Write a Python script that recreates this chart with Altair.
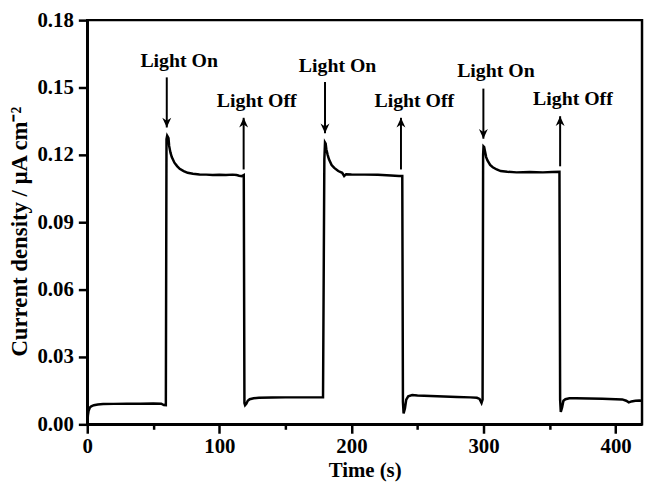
import altair as alt
import pandas as pd

# ---- photocurrent trace ----
time_s = [0, 0.5, 1, 2, 3, 5, 8, 12, 20, 30, 40, 50, 56, 58, 59.5,
          60, 60.5, 61, 61.5, 62, 63, 64, 66, 68, 70, 73, 76, 80, 85, 90, 95, 100, 105, 110, 113, 115, 117, 118.5,
          119, 119.5, 120.5, 121.5, 123, 126, 130, 140, 150, 160, 170, 178.5,
          179.5, 180, 180.5, 181, 182, 183, 185, 187, 190, 193, 194.5, 196, 200, 210, 220, 230, 236, 238.5,
          239, 239.5, 240.5, 241.5, 243, 246, 250, 260, 270, 280, 290, 295, 297, 298.5, 299.3,
          299.7, 300, 300.5, 301, 302, 303, 305, 307, 310, 313, 318, 325, 335, 345, 352, 357.5,
          358, 358.5, 359.5, 360.5, 362, 365, 370, 380, 390, 400, 405, 408, 410, 412, 415, 418, 420]
current = [0.0, 0.004, 0.006, 0.0075, 0.008, 0.0085, 0.0088, 0.009, 0.0091, 0.0092, 0.0092, 0.0093, 0.0092, 0.0086, 0.0085,
           0.127, 0.1285, 0.128, 0.1275, 0.124, 0.121, 0.119, 0.1165, 0.115, 0.1138, 0.1128, 0.112, 0.1116, 0.1113, 0.1112, 0.111, 0.1111, 0.111, 0.1112, 0.111, 0.1107, 0.1105, 0.111,
           0.0095, 0.0085, 0.0092, 0.0105, 0.0112, 0.0116, 0.0118, 0.0119, 0.012, 0.012, 0.012, 0.012,
           0.118, 0.1255, 0.125, 0.1225, 0.12, 0.118, 0.1155, 0.1142, 0.1128, 0.112, 0.1106, 0.1114, 0.1113, 0.1112, 0.1111, 0.1108, 0.1106, 0.1106,
           0.01, 0.0048, 0.007, 0.011, 0.0125, 0.013, 0.0128, 0.0126, 0.0124, 0.0122, 0.012, 0.0118, 0.0113, 0.0095, 0.011,
           0.12, 0.1238, 0.1235, 0.122, 0.119, 0.1175, 0.1155, 0.1145, 0.1135, 0.1128, 0.1125, 0.1122, 0.1124, 0.1122, 0.1124, 0.1125,
           0.011, 0.0055, 0.0075, 0.0105, 0.0112, 0.0116, 0.0116, 0.0115, 0.0114, 0.0112, 0.0111, 0.0105, 0.0098, 0.0102, 0.0105, 0.0106, 0.0105]

# ---- annotations ----
label_text = ["Light On", "Light Off", "Light On", "Light Off", "Light On", "Light Off"]
label_t = [69.6, 128.3, 189.5, 247.6, 309.4, 367.7]
label_v = [0.159, 0.1413, 0.1567, 0.1411, 0.1545, 0.1423]

arrow_t = [60.2, 118.4, 180.0, 237.5, 299.9, 358.0]
arrow_tail = [0.1545, 0.1135, 0.1524, 0.1135, 0.1495, 0.1149]
arrow_tip = [0.1322, 0.1365, 0.1296, 0.1365, 0.1272, 0.1372]
arrow_kind = ["down", "up", "down", "up", "down", "up"]

x_ticks = [0, 50, 100, 150, 200, 250, 300, 350, 400]
y_ticks = [0, 0.015, 0.03, 0.045, 0.06, 0.075, 0.09, 0.105, 0.12, 0.135, 0.15, 0.165, 0.18]

FONT = "Liberation Serif"

trace = pd.DataFrame({"t": time_s, "v": current})
labels = pd.DataFrame({"t": label_t, "v": label_v, "text": label_text})
arrows = pd.DataFrame({"t": arrow_t, "tail": arrow_tail, "tip": arrow_tip, "kind": arrow_kind})

xscale = alt.Scale(domain=[0, 420], nice=False, zero=False)
yscale = alt.Scale(domain=[0, 0.18], nice=False, zero=False)

x_axis = alt.Axis(
    values=x_ticks,
    labelExpr="datum.value % 100 === 0 ? datum.label : ''",
    tickSize={"condition": {"test": "datum.value % 100 === 0", "value": 9}, "value": 5},
    labelOverlap=False,
    labelFlush=False,
    labelPadding=2,
    grid=False,
    title="Time (s)",
    titleFontSize=21,
    titleY=53,
    titleBaseline="alphabetic",
)
y_axis = alt.Axis(
    values=y_ticks,
    labelExpr="round(datum.value*1000) % 30 === 0 ? format(datum.value, '.2f') : ''",
    tickSize={"condition": {"test": "round(datum.value*1000) % 30 === 0", "value": 9}, "value": 5},
    labelOverlap=False,
    labelFlush=False,
    grid=False,
    title="Current density / μA cm⁻²",
    titleFontSize=23,
    titleX=-68,
    titleY=213,
    titleBaseline="middle",
    titleAngle=-90,
)

line = alt.Chart(trace).mark_line(color="black", strokeWidth=2.5).encode(
    x=alt.X("t:Q", scale=xscale, axis=x_axis),
    y=alt.Y("v:Q", scale=yscale, axis=y_axis),
)

rules = alt.Chart(arrows).mark_rule(color="black", strokeWidth=2).encode(
    x=alt.X("t:Q", scale=xscale),
    y=alt.Y("tail:Q", scale=yscale),
    y2="tip:Q",
)

down_path = "M0,0L-1,-2.2L0,-1.5L1,-2.2Z"
up_path = "M0,0L-1,2.2L0,1.5L1,2.2Z"

heads_down = alt.Chart(arrows).transform_filter("datum.kind === 'down'").mark_point(
    shape=down_path, filled=True, fill="black", strokeWidth=0, size=81, opacity=1
).encode(x=alt.X("t:Q", scale=xscale), y=alt.Y("tip:Q", scale=yscale))

heads_up = alt.Chart(arrows).transform_filter("datum.kind === 'up'").mark_point(
    shape=up_path, filled=True, fill="black", strokeWidth=0, size=81, opacity=1
).encode(x=alt.X("t:Q", scale=xscale), y=alt.Y("tip:Q", scale=yscale))

texts = alt.Chart(labels).mark_text(
    font=FONT, fontSize=20, fontWeight="bold", color="black", align="center", baseline="alphabetic"
).encode(x=alt.X("t:Q", scale=xscale), y=alt.Y("v:Q", scale=yscale), text="text:N")

chart = alt.layer(line, rules, heads_down, heads_up, texts).properties(
    width=560,
    height=408,
    autosize=alt.AutoSizeParams(type="none"),
    padding={"left": 80, "top": 10, "right": 2, "bottom": 58},
    background="white",
).configure_view(
    stroke="black", strokeWidth=2.5
).configure_axis(
    grid=False,
    domainColor="black", domainWidth=2.5,
    tickColor="black", tickWidth=2.5,
    labelFont=FONT, labelFontSize=21, labelFontWeight="bold", labelColor="black", labelPadding=5,
    titleFont=FONT, titleFontWeight="bold", titleColor="black",
)

chart.save("out.html", embed_options={"renderer": "svg", "actions": False})
